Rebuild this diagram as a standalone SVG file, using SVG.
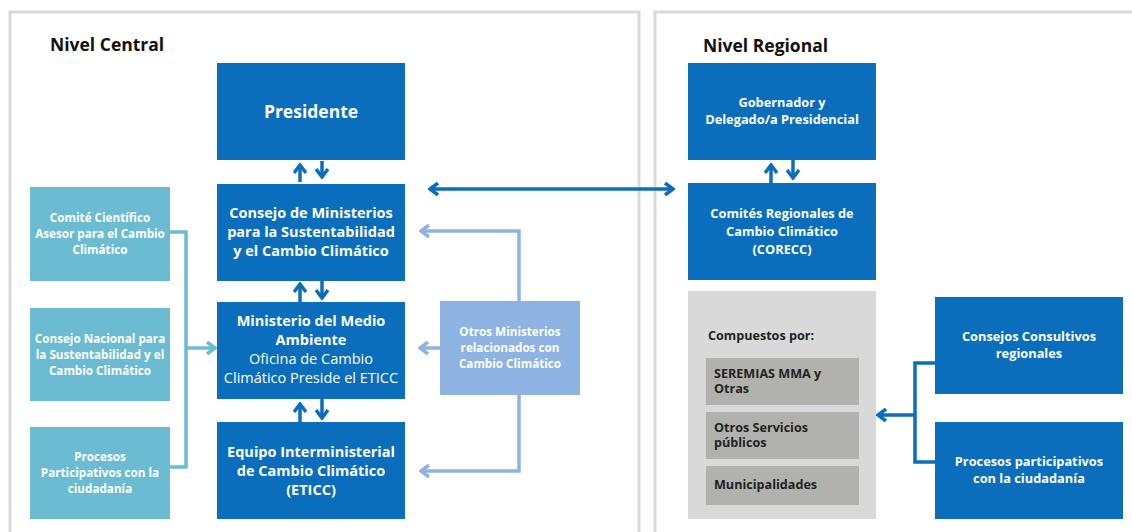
<svg xmlns="http://www.w3.org/2000/svg" width="1132" height="532" viewBox="0 0 1132 532">
<style>
text{font-family:"Open Sans","Noto Sans","Liberation Sans",sans-serif;font-weight:bold}
.w{fill:#ffffff;text-anchor:middle}
.h{fill:#111;font-size:17.5px}
.big{font-size:17.5px}
.m{font-size:14.5px}
.s{font-size:11.7px}
.r{font-size:12.8px}
.reg{font-weight:normal}
.d{fill:#222;font-size:12.6px}
.dark{fill:#0a6ebd}
.teal{fill:#6bbcd2}
.lb{fill:#8db3e2}
.lnD{stroke:#0a6ebd;stroke-width:3.5;fill:none}
.lnT{stroke:#6bbcd2;stroke-width:3.5;fill:none}
.lnL{stroke:#8db3e2;stroke-width:3.5;fill:none}
</style>
<defs>
<marker id="aD" markerUnits="userSpaceOnUse" viewBox="0 0 12 14" refX="10" refY="7" markerWidth="12" markerHeight="14" orient="auto-start-reverse"><path d="M2,1 L10,7 L2,13" fill="none" stroke="#0a6ebd" stroke-width="3.5"/></marker>
<marker id="aT" markerUnits="userSpaceOnUse" viewBox="0 0 12 14" refX="10" refY="7" markerWidth="12" markerHeight="14" orient="auto-start-reverse"><path d="M2,1 L10,7 L2,13" fill="none" stroke="#6bbcd2" stroke-width="3.5"/></marker>
<marker id="aL" markerUnits="userSpaceOnUse" viewBox="0 0 12 14" refX="10" refY="7" markerWidth="12" markerHeight="14" orient="auto-start-reverse"><path d="M2,1 L10,7 L2,13" fill="none" stroke="#8db3e2" stroke-width="3.5"/></marker>
</defs>
<rect width="1132" height="532" fill="#ffffff"/>
<g id="panels">
<rect x="10" y="12" width="629" height="530" fill="none" stroke="#d9d9d9" stroke-width="3"/>
<rect x="655" y="12" width="490" height="530" fill="none" stroke="#d9d9d9" stroke-width="3"/>
<text x="50" y="51" class="h">Nivel Central</text>
<text x="703" y="52" class="h">Nivel Regional</text>
</g>
<g id="connectors">
<path class="lnD" d="M300,182 V165" marker-end="url(#aD)"/>
<path class="lnD" d="M322,161 V177" marker-end="url(#aD)"/>
<path class="lnD" d="M300,302 V284" marker-end="url(#aD)"/>
<path class="lnD" d="M322,281 V298" marker-end="url(#aD)"/>
<path class="lnD" d="M300,422 V404" marker-end="url(#aD)"/>
<path class="lnD" d="M322,399 V418" marker-end="url(#aD)"/>
<path class="lnD" d="M771,183 V165" marker-end="url(#aD)"/>
<path class="lnD" d="M793,160 V178" marker-end="url(#aD)"/>
<path class="lnD" d="M430,189 H673" marker-start="url(#aD)" marker-end="url(#aD)"/>
<path class="lnT" d="M170,232 H186 V467 H170"/>
<path class="lnT" d="M186,348 H215" marker-end="url(#aT)"/>
<path class="lnL" d="M519,301 V231 H421" marker-end="url(#aL)"/>
<path class="lnL" d="M440,348 H420" marker-end="url(#aL)"/>
<path class="lnL" d="M519,395 V471 H421" marker-end="url(#aL)"/>
<path class="lnD" d="M935,363 H915 V462 H935"/>
<path class="lnD" d="M915,415 H878" marker-end="url(#aD)"/>
</g>
<g id="presidente">
<rect x="217" y="63" width="188" height="97" class="dark"/>
<text x="311" y="118" class="w big">Presidente</text>
</g>
<g id="consejo-ministerios">
<rect x="217" y="184" width="188" height="97" class="dark"/>
<text class="w m"><tspan x="311" y="218">Consejo de Ministerios</tspan><tspan x="311" y="237">para la Sustentabilidad</tspan><tspan x="311" y="256">y el Cambio Climático</tspan></text>
</g>
<g id="mma">
<rect x="217" y="302" width="188" height="97" class="dark"/>
<text class="w m"><tspan x="311" y="326">Ministerio del Medio</tspan><tspan x="311" y="345">Ambiente</tspan><tspan x="311" y="364" class="reg">Oficina de Cambio</tspan><tspan x="311" y="383" class="reg">Climático Preside el ETICC</tspan></text>
</g>
<g id="eticc">
<rect x="217" y="422" width="188" height="97" class="dark"/>
<text class="w m"><tspan x="311" y="457">Equipo Interministerial</tspan><tspan x="311" y="476">de Cambio Climático</tspan><tspan x="311" y="495">(ETICC)</tspan></text>
</g>
<g id="comite-cientifico">
<rect x="30" y="187" width="140" height="94" class="teal"/>
<text class="w s"><tspan x="100" y="222">Comité Científico</tspan><tspan x="100" y="238">Asesor para el Cambio</tspan><tspan x="100" y="254">Climático</tspan></text>
</g>
<g id="consejo-nacional">
<rect x="30" y="308" width="140" height="93" class="teal"/>
<text class="w s"><tspan x="100" y="343">Consejo Nacional para</tspan><tspan x="100" y="359">la Sustentabilidad y el</tspan><tspan x="100" y="375">Cambio Climático</tspan></text>
</g>
<g id="procesos-central">
<rect x="30" y="427" width="140" height="92" class="teal"/>
<text class="w s"><tspan x="100" y="461">Procesos</tspan><tspan x="100" y="477">Participativos con la</tspan><tspan x="100" y="493">ciudadanía</tspan></text>
</g>
<g id="otros-ministerios">
<rect x="440" y="301" width="140" height="94" class="lb"/>
<text class="w s"><tspan x="510" y="336">Otros Ministerios</tspan><tspan x="510" y="352">relacionados con</tspan><tspan x="510" y="368">Cambio Climático</tspan></text>
</g>
<g id="gobernador">
<rect x="688" y="63" width="188" height="97" class="dark"/>
<text class="w r"><tspan x="782" y="107">Gobernador y</tspan><tspan x="782" y="124">Delegado/a Presidencial</tspan></text>
</g>
<g id="corecc">
<rect x="688" y="183" width="188" height="97" class="dark"/>
<text class="w r"><tspan x="782" y="218">Comités Regionales de</tspan><tspan x="782" y="236">Cambio Climático</tspan><tspan x="782" y="254">(CORECC)</tspan></text>
</g>
<g id="compuestos">
<rect x="688" y="291" width="188" height="228" fill="#d9d9d9"/>
<text x="708" y="340" class="d">Compuestos por:</text>
<rect x="706" y="358" width="153" height="47" fill="#b1b2ae"/>
<text class="d"><tspan x="714" y="378">SEREMIAS MMA y</tspan><tspan x="714" y="393">Otras</tspan></text>
<rect x="706" y="412" width="153" height="47" fill="#b1b2ae"/>
<text class="d"><tspan x="714" y="432">Otros Servicios</tspan><tspan x="714" y="447">públicos</tspan></text>
<rect x="706" y="466" width="153" height="39" fill="#b1b2ae"/>
<text x="714" y="489" class="d">Municipalidades</text>
</g>
<g id="consejos-consultivos">
<rect x="935" y="297" width="188" height="97" class="dark"/>
<text class="w r"><tspan x="1029" y="341">Consejos Consultivos</tspan><tspan x="1029" y="358">regionales</tspan></text>
</g>
<g id="procesos-regional">
<rect x="935" y="422" width="188" height="97" class="dark"/>
<text class="w r"><tspan x="1029" y="466">Procesos participativos</tspan><tspan x="1029" y="483">con la ciudadanía</tspan></text>
</g>
</svg>
